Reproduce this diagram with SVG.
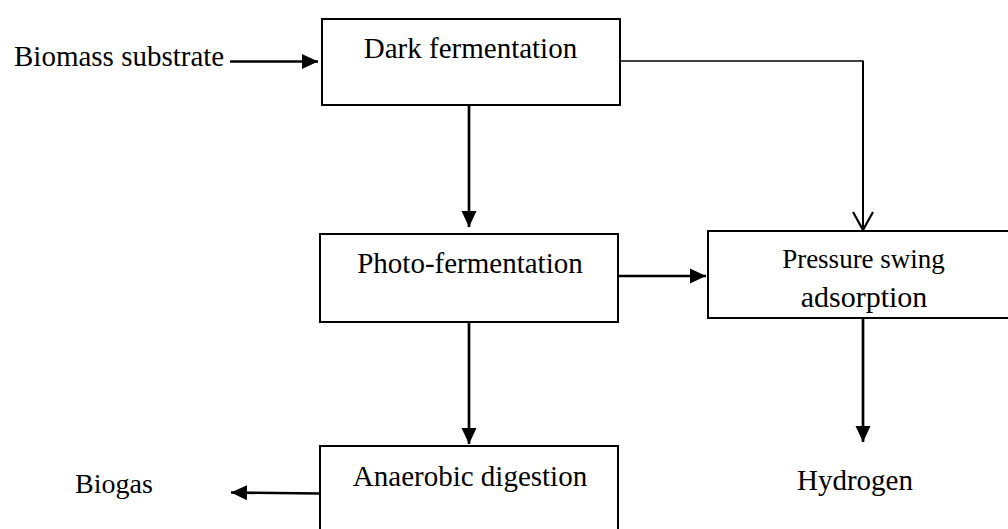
<svg xmlns="http://www.w3.org/2000/svg" width="1008" height="529" viewBox="0 0 1008 529">
<style>
.box{fill:#fff;stroke:#000;stroke-width:2}
.lbl{font-family:"Liberation Serif","Times New Roman",serif;font-size:29px;fill:#000}
.c{text-anchor:middle}
.thick{fill:none;stroke:#000;stroke-width:2.7}
.thin{fill:none;stroke:#000;stroke-width:1.3}
.mid{fill:none;stroke:#000;stroke-width:2}
</style>
<defs>
<marker id="tri" markerUnits="userSpaceOnUse" markerWidth="16" markerHeight="16" viewBox="0 0 16 16" refX="16" refY="8" orient="auto">
<path d="M0,0.5 L16,8 L0,15.5 Z" fill="#000"/>
</marker>
<marker id="vee" markerUnits="userSpaceOnUse" markerWidth="22" markerHeight="24" viewBox="0 0 22 24" refX="19" refY="12" orient="auto">
<path d="M1,2 L19,12 L1,22" fill="none" stroke="#000" stroke-width="2.2"/>
</marker>
</defs>
<g id="connectors">
<line class="thick" x1="230" y1="61.5" x2="318" y2="61.5" marker-end="url(#tri)"/>
<line class="thick" x1="469" y1="105" x2="469" y2="227" marker-end="url(#tri)"/>
<path class="thin" d="M620,61 H863"/>
<line class="mid" x1="863" y1="60.5" x2="863" y2="230" marker-end="url(#vee)"/>
<line class="thick" x1="619" y1="276" x2="706" y2="276" marker-end="url(#tri)"/>
<line class="thick" x1="469" y1="322" x2="469" y2="444" marker-end="url(#tri)"/>
<line class="thick" x1="863" y1="318" x2="863" y2="442" marker-end="url(#tri)"/>
<line class="thick" x1="320" y1="493.5" x2="231" y2="492.5" marker-end="url(#tri)"/>
</g>
<g id="biomass">
<text class="lbl" x="14" y="66">Biomass substrate</text>
</g>
<g id="dark">
<rect class="box" x="322" y="19" width="298" height="86"/>
<text class="lbl c" x="470.5" y="57.5">Dark fermentation</text>
</g>
<g id="photo">
<rect class="box" x="320" y="234" width="298" height="88"/>
<text class="lbl c" x="470" y="273">Photo-fermentation</text>
</g>
<g id="psa">
<rect class="box" x="708" y="231" width="304" height="87"/>
<text class="lbl c" x="863.5" y="268" style="font-size:27px">Pressure swing</text>
<text class="lbl c" x="864" y="306.5" style="font-size:30px">adsorption</text>
</g>
<g id="anaerobic">
<rect class="box" x="320" y="446" width="298" height="100"/>
<text class="lbl c" x="470" y="485.5">Anaerobic digestion</text>
</g>
<g id="biogas">
<text class="lbl" x="75" y="493" style="font-size:28px">Biogas</text>
</g>
<g id="hydrogen">
<text class="lbl c" x="855" y="490">Hydrogen</text>
</g>
</svg>
